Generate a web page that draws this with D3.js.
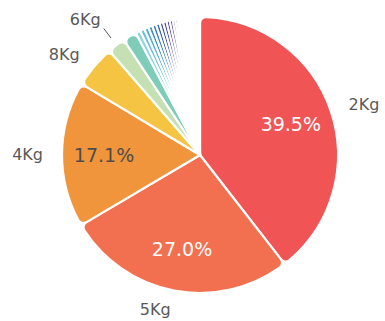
<!DOCTYPE html>
<html>
<head>
<meta charset="utf-8">
<script src="https://cdn.jsdelivr.net/npm/d3@7"></script>
<style>
  html, body { margin: 0; padding: 0; background: #fff; }
  svg { display: block; }
</style>
</head>
<body>
<svg id="chart" width="385" height="321"></svg>
<script>
// Share of shipments by parcel weight (percent of total)
const categories = [
  "2Kg", "5Kg", "4Kg", "8Kg", "6Kg", "10Kg",
  "3Kg", "1Kg", "12Kg", "7Kg", "15Kg", "20Kg", "9Kg", "25Kg", "0.5Kg", "1.5Kg",
  "2.5Kg", "30Kg",
  "3.5Kg", "11Kg", "14Kg", "16Kg", "18Kg", "40Kg", "50Kg", "0.25Kg", "13Kg", "35Kg",
  "45Kg", "17Kg", "22Kg", "60Kg", "4.5Kg"
];
const shares = [
  39.5, 27.0, 17.1, 5.0, 2.1, 1.6,
  0.56, 0.52, 0.50, 0.48, 0.46, 0.44, 0.42, 0.40, 0.38, 0.36,
  0.30, 0.28,
  0.22, 0.22, 0.21, 0.20, 0.20, 0.19, 0.18, 0.18, 0.17, 0.16,
  0.15, 0.14, 0.13, 0.13, 0.12
];
const palette = [
  "#f05454", "#f2704f", "#f0953b", "#f5c443", "#c5e1b4", "#7fcdb9",
  "#8fd3dc", "#68c0d8", "#4fabd2", "#3f93c6", "#3a7bb8", "#3765ab", "#3a50a0", "#413f99", "#4b3796", "#57389b",
  "#6446a2", "#6c50a8",
  "#7458ac", "#7c60b0", "#8468b4", "#8c70b8", "#9478bc", "#9c80c0", "#a488c4", "#ac90c8", "#b498cc", "#bca0d0",
  "#c4a8d4", "#ccb0d8", "#d4b8dc", "#dcc0e0", "#e4c8e4"
];

const data = categories.map((c, i) => ({ cat: c, value: shares[i], color: palette[i] }));
const total = d3.sum(shares);

const svg = d3.select("#chart");
const cx = 200, cy = 155, radius = 138;
const gap = 2.2;            // white separation between slices
const labelMin = 1.8;       // smallest share that gets an outside label
const insideMin = 10;       // smallest share that gets a percentage inside

const pie = d3.pie().sort(null).value(d => d.value);
const arcs = pie(data);

const arc = d3.arc()
  .innerRadius(0)
  .outerRadius(radius)
  .cornerRadius(6);

const g = svg.append("g").attr("transform", `translate(${cx},${cy})`);

g.selectAll("path.slice")
  .data(arcs)
  .join("path")
  .attr("class", "slice")
  .attr("d", arc)
  .attr("fill", d => d.data.color)
  .attr("stroke", "#fff")
  .attr("stroke-width", gap)
  .attr("stroke-linejoin", "round");

const fmt = d3.format(".1f");
const pct = d => d.data.value / total * 100;
const mid = d => (d.startAngle + d.endAngle) / 2;
const polar = (a, r) => [Math.sin(a) * r, -Math.cos(a) * r];

// percentage inside the large slices
g.selectAll("text.pct")
  .data(arcs.filter(d => pct(d) >= insideMin))
  .join("text")
  .attr("class", "pct")
  .attr("x", d => polar(mid(d), 96)[0])
  .attr("y", d => polar(mid(d), 96)[1])
  .attr("text-anchor", "middle")
  .attr("dominant-baseline", "central")
  .attr("font-family", "DejaVu Sans, sans-serif")
  .attr("font-size", 19)
  .attr("fill", d => d3.lab(d.data.color).l > 66 ? "#4d4d4d" : "#ffffff")
  .text(d => fmt(pct(d)) + "%");

// category names outside the pie; small slices get a short leader line
const labelled = arcs.filter(d => pct(d) >= labelMin);
const small = d => pct(d) < 3;

g.selectAll("line.leader")
  .data(labelled.filter(small))
  .join("line")
  .attr("class", "leader")
  .attr("x1", d => polar(mid(d), radius + 9)[0])
  .attr("y1", d => polar(mid(d), radius + 9)[1])
  .attr("x2", d => polar(mid(d), radius + 21)[0])
  .attr("y2", d => polar(mid(d), radius + 21)[1])
  .attr("stroke", "#595959")
  .attr("stroke-width", 1);

g.selectAll("text.name")
  .data(labelled)
  .join("text")
  .attr("class", "name")
  .attr("x", d => {
    const [x] = polar(mid(d), small(d) ? radius + 23 : radius + 19);
    return small(d) ? x - 2 : x;
  })
  .attr("y", d => {
    const [, y] = polar(mid(d), small(d) ? radius + 23 : radius + 19);
    return small(d) ? y - 7 : y;
  })
  .attr("text-anchor", d => mid(d) > Math.PI ? "end" : "start")
  .attr("dominant-baseline", "central")
  .attr("font-family", "DejaVu Sans, sans-serif")
  .attr("font-size", 16)
  .attr("fill", "#595959")
  .text(d => d.data.cat);
</script>
</body>
</html>
